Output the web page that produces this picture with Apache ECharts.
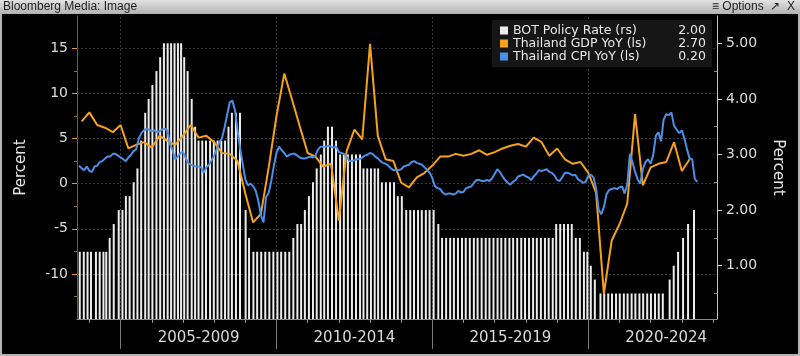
<!DOCTYPE html>
<html>
<head>
<meta charset="utf-8">
<script src="https://cdn.jsdelivr.net/npm/echarts@6/dist/echarts.min.js"></script>
<style>
html,body{margin:0;padding:0;background:#000;}
#chart{width:800px;height:356px;}
</style>
</head>
<body>
<div id="chart"></div>
<script>
// ---------------- DATA ----------------
// BOT policy rate (right scale), one bar per decision date (decimal years)
const rateDates = [
  2003.69, 2003.82, 2003.94, 2004.05, 2004.21, 2004.33, 2004.45, 2004.54,
  2004.65, 2004.78, 2004.94, 2005.06, 2005.17, 2005.29, 2005.42, 2005.54,
  2005.66, 2005.79, 2005.90, 2006.02, 2006.15, 2006.27,
  2006.39, 2006.51, 2006.62, 2006.73, 2006.84, 2006.94,
  2007.04, 2007.15, 2007.28, 2007.39,
  2007.50, 2007.62, 2007.74, 2007.87, 2007.99, 2008.11, 2008.23, 2008.35,
  2008.46, 2008.57, 2008.70, 2008.83, 2009.01, 2009.12,
  2009.26, 2009.38, 2009.51, 2009.64, 2009.77, 2009.90, 2010.03, 2010.15, 2010.28, 2010.41,
  2010.54, 2010.67, 2010.79, 2010.91, 2011.04, 2011.17, 2011.29, 2011.42, 2011.53,
  2011.65, 2011.78, 2011.91,
  2012.04, 2012.16, 2012.29, 2012.42, 2012.55, 2012.68,
  2012.79, 2012.91, 2013.03, 2013.15, 2013.26,
  2013.38, 2013.51, 2013.64, 2013.77,
  2013.89, 2014.02,
  2014.16, 2014.29, 2014.41, 2014.54, 2014.66, 2014.79, 2014.91, 2015.04,
  2015.19,
  2015.31, 2015.44, 2015.57, 2015.69, 2015.82, 2015.95,
  2016.07, 2016.20, 2016.33, 2016.45, 2016.58, 2016.71, 2016.83, 2016.96,
  2017.09, 2017.21, 2017.34, 2017.47, 2017.59, 2017.72, 2017.85, 2017.97,
  2018.10, 2018.23, 2018.35, 2018.48, 2018.61, 2018.73, 2018.86,
  2018.97, 2019.10, 2019.22, 2019.35, 2019.47,
  2019.60, 2019.73, 2019.86, 2019.97, 2020.08, 2020.21,
  2020.39, 2020.51, 2020.64, 2020.76, 2020.89, 2021.01, 2021.14, 2021.26, 2021.39,
  2021.51, 2021.64, 2021.76, 2021.89, 2022.01, 2022.14, 2022.26, 2022.39,
  2022.61, 2022.74, 2022.88, 2023.04, 2023.20, 2023.39
];
const rateValues = [
  1.25, 1.25, 1.25, 1.25, 1.25, 1.25, 1.25, 1.25,
  1.50, 1.75, 2.00, 2.00, 2.25, 2.25, 2.50, 2.75,
  3.25, 3.75, 4.00, 4.25, 4.50, 4.75,
  5.00, 5.00, 5.00, 5.00, 5.00, 5.00,
  4.75, 4.50, 4.00, 3.50,
  3.25, 3.25, 3.25, 3.25, 3.25, 3.25, 3.25, 3.25,
  3.50, 3.75, 3.75, 3.75, 2.00, 1.50,
  1.25, 1.25, 1.25, 1.25, 1.25, 1.25, 1.25, 1.25, 1.25, 1.25,
  1.50, 1.75, 1.75, 2.00, 2.25, 2.50, 2.75, 3.00, 3.25,
  3.50, 3.50, 3.25,
  3.00, 3.00, 3.00, 3.00, 3.00, 3.00,
  2.75, 2.75, 2.75, 2.75, 2.75,
  2.50, 2.50, 2.50, 2.50,
  2.25, 2.25,
  2.00, 2.00, 2.00, 2.00, 2.00, 2.00, 2.00, 2.00,
  1.75,
  1.50, 1.50, 1.50, 1.50, 1.50, 1.50,
  1.50, 1.50, 1.50, 1.50, 1.50, 1.50, 1.50, 1.50,
  1.50, 1.50, 1.50, 1.50, 1.50, 1.50, 1.50, 1.50,
  1.50, 1.50, 1.50, 1.50, 1.50, 1.50, 1.50,
  1.75, 1.75, 1.75, 1.75, 1.75,
  1.50, 1.50, 1.25, 1.25, 1.00, 0.75,
  0.50, 0.50, 0.50, 0.50, 0.50, 0.50, 0.50, 0.50, 0.50,
  0.50, 0.50, 0.50, 0.50, 0.50, 0.50, 0.50, 0.50,
  0.75, 1.00, 1.25, 1.50, 1.75, 2.00
];

// Thailand GDP YoY (left scale), quarterly, first point = Q3 2003 (plotted at quarter end)
const gdpFirstQuarterEnd = 2003.75;
const gdpYoY = [
  6.9, 7.9,
  6.5, 6.2, 5.7, 6.5,
  3.9, 4.3, 4.6, 4.0,
  5.3, 4.75, 4.3, 5.3,
  6.5, 5.1, 5.3, 4.6,
  3.4, 3.3, 2.5, -1.1,
  -4.3, -3.35, 1.8, 7.5,
  12.2, 9.3, 6.3, 3.4,
  3.0, 1.9, 2.2, -4.1,
  3.6, 6.0, 4.9, 15.5,
  5.3, 2.7, 2.5, 0.1,
  -0.4, 0.7, 1.2, 2.0,
  3.0, 3.0, 3.3, 3.1,
  3.3, 3.7, 3.2, 3.5,
  3.9, 4.2, 4.4, 4.1,
  5.1, 4.6, 3.1, 3.9,
  2.7, 2.2, 2.4, 1.2,
  -1.0, -12.2, -6.3, -4.5,
  -2.2, 7.7, -0.2, 1.8,
  2.2, 2.4, 4.6, 1.4,
  2.7
];

// Thailand CPI YoY (left scale), monthly, first point = Aug 2003 (plotted at month end)
const cpiFirstYear = 2003;
const cpiFirstMonth = 8;
const cpiYoY = [
  2.0, 1.7, 1.5, 1.9, 1.4,                                   // 2003 Aug-Dec
  1.3, 1.9, 2.0, 2.4, 2.5, 2.8, 3.0, 3.0, 3.3, 3.3, 3.1, 2.9, // 2004
  2.7, 2.5, 2.9, 3.2, 3.6, 3.8, 5.0, 5.6, 5.9, 6.1, 6.0, 5.8, // 2005
  5.9, 5.7, 5.8, 6.0, 6.1, 5.9, 4.4, 3.7, 2.7, 3.0, 3.4, 3.5, // 2006
  2.9, 2.3, 2.1, 2.0, 1.9, 1.9, 1.8, 1.2, 1.8, 2.1, 2.6, 3.1, // 2007
  3.8, 4.6, 5.0, 6.2, 7.6, 9.0, 9.2, 8.2, 6.0, 3.9, 2.2, 0.5, // 2008
  -0.2, 0.0, -0.3, -0.8, -1.9, -3.5, -4.3, -1.5, -1.0, 0.3, 2.0, 3.4, // 2009
  4.1, 3.7, 3.4, 3.0, 3.2, 3.3, 3.3, 3.1, 2.9, 2.8, 2.8, 2.9, // 2010
  3.0, 2.9, 3.1, 3.8, 4.1, 4.1, 4.1, 4.2, 4.1, 4.0, 4.1, 3.5, // 2011
  3.4, 3.3, 3.0, 2.5, 2.5, 2.6, 2.7, 2.7, 2.9, 3.1, 3.2, 3.4, // 2012
  3.3, 3.0, 2.8, 2.5, 2.3, 2.2, 2.0, 1.7, 1.5, 1.5, 1.5, 1.6, // 2013
  1.9, 2.0, 2.1, 2.4, 2.5, 2.3, 2.2, 2.1, 1.8, 1.5, 1.2, 0.6, // 2014
  -0.3, -0.5, -0.6, -1.0, -1.2, -1.1, -1.1, -1.2, -1.1, -0.8, -1.0, -0.9, // 2015
  -0.5, -0.4, -0.3, 0.1, 0.4, 0.4, 0.3, 0.3, 0.4, 0.3, 0.6, 1.1, // 2016
  1.6, 1.3, 0.8, 0.4, 0.1, -0.1, 0.2, 0.4, 0.8, 0.9, 1.0, 0.8, // 2017
  0.7, 0.4, 0.8, 1.1, 1.5, 1.4, 1.5, 1.6, 1.3, 1.2, 0.9, 0.4, // 2018
  0.3, 0.7, 1.2, 1.2, 1.1, 0.9, 1.0, 0.5, 0.3, 0.1, 0.2, 0.9, // 2019
  1.0, 0.7, -0.5, -2.9, -3.4, -2.6, -1.2, -0.7, -0.6, -0.5, -0.6, -0.4, // 2020
  -0.3, -1.1, -0.1, 3.3, 2.4, 1.3, 0.5, 0.0, 1.6, 2.4, 2.7, 2.2, // 2021
  3.2, 5.3, 5.7, 4.7, 7.1, 7.7, 7.6, 7.9, 6.4, 6.0, 5.6, 5.9, // 2022
  5.0, 3.8, 2.8, 2.7, 0.5, 0.2                                // 2023 Jan-Jun
];

// axis ticks / labels
const periodLabels = ['2005-2009', '2010-2014', '2015-2019', '2020-2024'];
const periodCenters = [2007.5, 2012.5, 2017.5, 2022.5];
const periodBounds = [2005, 2010, 2015, 2020];
const yearTicks = [2004, 2005, 2006, 2007, 2008, 2009, 2010, 2011, 2012, 2013, 2014,
                   2015, 2016, 2017, 2018, 2019, 2020, 2021, 2022, 2023, 2024];
const leftLabels = [-10, -5, 0, 5, 10, 15];
const leftMinor = [-12.5, -7.5, -2.5, 2.5, 7.5, 12.5];
const rightLabels = [1, 2, 3, 4, 5];
const rightMinor = [0.5, 1.5, 2.5, 3.5, 4.5];

const seriesNames = ['BOT Policy Rate (rs)', 'Thailand GDP YoY (ls)', 'Thailand CPI YoY (ls)'];

// ---------------- BUILD ----------------
const X_MIN = 2003.602, X_MAX = 2024.128;
const L_MIN = -15, L_MAX = 18.58;
const R_MIN = 0.041, R_MAX = 5.491;

const rateData = rateDates.map((d, i) => [d, rateValues[i]]);
const gdpData = gdpYoY.map((v, i) => [gdpFirstQuarterEnd + i / 4, v]);
const cpiData = cpiYoY.map((v, i) => [cpiFirstYear + (cpiFirstMonth + i) / 12, v]);

const lastValues = {};
lastValues[seriesNames[0]] = rateValues[rateValues.length - 1];
lastValues[seriesNames[1]] = gdpYoY[gdpYoY.length - 1];
lastValues[seriesNames[2]] = cpiYoY[cpiYoY.length - 1];

const FONT = '"DejaVu Sans", Verdana, sans-serif';
const chart = echarts.init(document.getElementById('chart'), null, { renderer: 'canvas' });

const option = {
  backgroundColor: '#000000',
  animation: false,
  textStyle: { fontFamily: FONT },
  grid: { left: 77, right: 83, top: 16, bottom: 37, containLabel: false, outerBoundsMode: 'none' },
  legend: {
    data: seriesNames,
    orient: 'vertical',
    left: 492,
    top: 20,
    padding: [4, 6, 4, 8],
    itemGap: 0,
    itemWidth: 8,
    itemHeight: 8,
    icon: 'rect',
    selectedMode: false,
    backgroundColor: '#161616',
    textStyle: {
      color: '#e8e8e8', fontSize: 12.5, fontFamily: FONT, lineHeight: 11.3,
      rich: {
        n: { width: 153, color: '#e8e8e8', fontSize: 12.5, fontFamily: FONT, lineHeight: 11.3 },
        v: { width: 40, align: 'right', color: '#e8e8e8', fontSize: 12.5, fontFamily: FONT, lineHeight: 11.3 }
      }
    },
    formatter: function (name) {
      return '{n|' + name + '}{v|' + lastValues[name].toFixed(2) + '}';
    }
  },
  xAxis: [
    {
      type: 'value', min: X_MIN, max: X_MAX, position: 'bottom',
      axisLine: { show: true, onZero: false, lineStyle: { color: '#8c8c8c', width: 1 } },
      axisTick: { show: true, customValues: yearTicks, length: 4, lineStyle: { color: '#8c8c8c' } },
      axisLabel: { show: false },
      splitLine: { show: false }
    },
    {
      type: 'value', min: X_MIN, max: X_MAX, position: 'bottom',
      axisLine: { show: false, onZero: false },
      axisTick: { show: true, customValues: periodBounds, length: 30, lineStyle: { color: '#7a7a7a' } },
      axisLabel: {
        show: true, customValues: periodCenters, margin: 12,
        color: '#dadada', fontSize: 15, fontFamily: FONT,
        formatter: function (v) { return periodLabels[periodCenters.indexOf(v)]; }
      },
      splitLine: { show: false }
    }
  ],
  yAxis: [
    {
      type: 'value', position: 'left', min: L_MIN, max: L_MAX,
      name: 'Percent', nameLocation: 'middle', nameGap: 48, nameRotate: 90,
      nameTextStyle: { color: '#e8e8e8', fontSize: 15, fontFamily: FONT },
      axisLine: { show: true, onZero: false, lineStyle: { color: '#7d5c26' } },
      axisTick: { show: true, customValues: leftLabels, length: 5, lineStyle: { color: '#e39a2e' } },
      axisLabel: { show: true, customValues: leftLabels, color: '#dcdcdc', fontSize: 14, fontFamily: FONT, margin: 9 },
      splitLine: { show: false }
    },
    {
      type: 'value', position: 'right', min: R_MIN, max: R_MAX,
      name: 'Percent', nameLocation: 'middle', nameGap: 53, nameRotate: -90,
      nameTextStyle: { color: '#e8e8e8', fontSize: 15, fontFamily: FONT },
      axisLine: { show: true, onZero: false, lineStyle: { color: '#c4c4c4' } },
      axisTick: { show: true, customValues: rightLabels, length: 5, lineStyle: { color: '#d0d0d0' } },
      axisLabel: {
        show: true, customValues: rightLabels, color: '#dcdcdc', fontSize: 14, fontFamily: FONT, margin: 9,
        formatter: function (v) { return v.toFixed(2); }
      },
      splitLine: { show: false }
    },
    {
      type: 'value', position: 'left', min: L_MIN, max: L_MAX,
      axisLine: { show: false, onZero: false },
      axisTick: { show: true, customValues: leftMinor, length: 3, lineStyle: { color: '#9a6a22' } },
      axisLabel: { show: false },
      splitLine: { show: false }
    },
    {
      type: 'value', position: 'right', min: R_MIN, max: R_MAX,
      axisLine: { show: false, onZero: false },
      axisTick: { show: true, inside: true, customValues: rightMinor, length: 3, lineStyle: { color: '#8a8a8a' } },
      axisLabel: { show: false },
      splitLine: { show: false }
    }
  ],
  series: [
    {
      name: seriesNames[0],
      type: 'bar',
      xAxisIndex: 0, yAxisIndex: 1,
      data: rateData,
      barWidth: 2,
      itemStyle: { color: '#ececec' },
      z: 2,
      clip: true,
      markLine: {
        silent: true, symbol: ['none', 'none'], z: 1, animation: false,
        label: { show: false },
        lineStyle: { color: '#3a3a3a', type: [2, 2], width: 1 },
        data: periodBounds.map(v => ({ xAxis: v }))
      }
    },
    {
      name: seriesNames[1],
      type: 'line',
      xAxisIndex: 0, yAxisIndex: 0,
      data: gdpData,
      showSymbol: false,
      lineStyle: { color: '#f5a11c', width: 2 },
      itemStyle: { color: '#f5a11c' },
      z: 3,
      markLine: {
        silent: true, symbol: ['none', 'none'], z: 1, animation: false,
        label: { show: false },
        lineStyle: { color: '#3a3a3a', type: [2, 2], width: 1 },
        data: leftLabels.map(v => ({ yAxis: v }))
      }
    },
    {
      name: seriesNames[2],
      type: 'line',
      xAxisIndex: 0, yAxisIndex: 0,
      data: cpiData,
      showSymbol: false,
      lineStyle: { color: '#4c8fe8', width: 2 },
      itemStyle: { color: '#4c8fe8' },
      z: 4
    }
  ],
  graphic: [
    {
      type: 'rect', z: 100, silent: true,
      shape: { x: 1, y: 1, width: 798, height: 354 },
      style: { fill: 'none', stroke: '#b4b4b4', lineWidth: 2 }
    },
    {
      type: 'rect', z: 101, silent: true,
      shape: { x: 0, y: 0, width: 800, height: 14 },
      style: {
        fill: { type: 'linear', x: 0, y: 0, x2: 0, y2: 1,
                colorStops: [{ offset: 0, color: '#e2e2e2' }, { offset: 1, color: '#b2b2b2' }] }
      }
    },
    {
      type: 'text', z: 102, silent: true, left: 3, top: 1,
      style: { text: 'Bloomberg Media: Image', fill: '#1e1e1e', font: '12px "Liberation Sans", Arial, sans-serif' }
    },
    {
      type: 'text', z: 102, silent: true, left: 712, top: 1,
      style: { text: '\u2261 Options  \u2197  X', fill: '#1e1e1e', font: '12px "Liberation Sans", Arial, sans-serif' }
    }
  ]
};

chart.setOption(option);
</script>
</body>
</html>
